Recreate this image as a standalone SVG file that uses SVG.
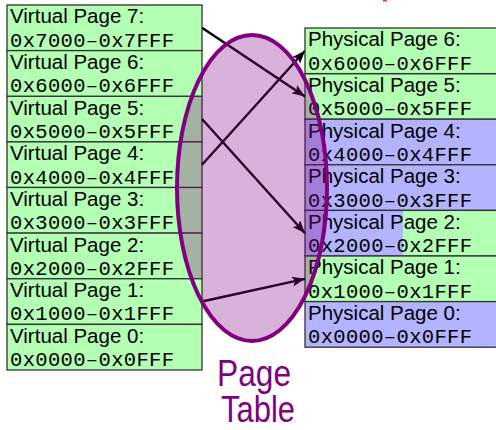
<svg xmlns="http://www.w3.org/2000/svg" width="496" height="430" viewBox="0 0 496 430">
<style>
.g{fill:#b3ffb3;stroke:#333;stroke-width:1.3}
.b{fill:#b3b3ff;stroke:#333;stroke-width:1.3}
.s{font-family:"Liberation Sans",Arial,sans-serif;font-size:20.5px;fill:#000}
.m{font-family:"Liberation Mono","DejaVu Sans Mono",monospace;font-size:20.5px;fill:#000}
.arr{stroke:#000;stroke-width:2.4;fill:none;marker-end:url(#ah)}
.pt{font-family:"Liberation Sans",Arial,sans-serif;font-size:36px;fill:#800080}
</style>
<defs>
<marker id="ah" markerUnits="userSpaceOnUse" markerWidth="14" markerHeight="12" refX="13" refY="5" orient="auto">
<path d="M0,0 L13,5 L0,10 L3,5 z" fill="#000"/>
</marker>
</defs>
<rect x="383" y="0" width="4" height="1.5" fill="#ff3030"/>
<!-- nodes under the table overlay -->
<g id="v5"><rect class="g" x="7" y="96.25" width="195" height="45.6"/><text class="s" x="10" y="114.6">Virtual Page 5:</text><text class="m" x="10" y="138" textLength="164">0x5000–0x5FFF</text></g>
<g id="v4"><rect class="g" x="7" y="141.9" width="195" height="45.6"/><text class="s" x="10" y="160.3">Virtual Page 4:</text><text class="m" x="10" y="183.6" textLength="164">0x4000–0x4FFF</text></g>
<g id="v3"><rect class="g" x="7" y="187.5" width="195" height="45.6"/><text class="s" x="10" y="205.9">Virtual Page 3:</text><text class="m" x="10" y="229.2" textLength="164">0x3000–0x3FFF</text></g>
<g id="v2"><rect class="g" x="7" y="233.1" width="195" height="45.6"/><text class="s" x="10" y="251.5">Virtual Page 2:</text><text class="m" x="10" y="274.8" textLength="164">0x2000–0x2FFF</text></g>
<g id="p5"><rect class="g" x="305" y="73.6" width="200" height="45.6"/><text class="s" x="308" y="92">Physical Page 5:</text><text class="m" x="308" y="115.3" textLength="164">0x5000–0x5FFF</text></g>
<g id="p4"><rect class="b" x="305" y="119.2" width="200" height="45.6"/><text class="s" x="308" y="137.6">Physical Page 4:</text><text class="m" x="308" y="160.9" textLength="164">0x4000–0x4FFF</text></g>
<g id="p3"><rect class="b" x="305" y="164.8" width="200" height="45.6"/><text class="s" x="308" y="183.2">Physical Page 3:</text><text class="m" x="308" y="206.5" textLength="164">0x3000–0x3FFF</text></g>
<g id="p2"><rect x="403" y="210.4" width="102" height="45.6" fill="#b3ffb3"/><rect x="305" y="210.4" width="98" height="45.6" fill="#b3b3ff"/><rect x="305" y="210.4" width="200" height="45.6" fill="none" stroke="#333" stroke-width="1.3"/><text class="s" x="308" y="228.8">Physical Page 2:</text><text class="m" x="308" y="252.1" textLength="164">0x2000–0x2FFF</text></g>
<g id="p1"><rect class="g" x="305" y="256" width="200" height="45.6"/><text class="s" x="308" y="274.4">Physical Page 1:</text><text class="m" x="308" y="297.7" textLength="164">0x1000–0x1FFF</text></g>
<!-- connectors -->
<g id="connectors">
<line class="arr" x1="202" y1="27.8" x2="305" y2="96.4"/>
<line class="arr" x1="202" y1="164.7" x2="305" y2="50.8"/>
<line class="arr" x1="202" y1="119" x2="305" y2="233.2"/>
<line class="arr" x1="202" y1="301.5" x2="305" y2="278.8"/>
</g>
<!-- page table fill -->
<ellipse id="pagetable-fill" cx="252" cy="188" rx="75" ry="153" fill="#800080" fill-opacity="0.3"/>
<!-- nodes above the overlay -->
<g id="v7"><rect class="g" x="7" y="5" width="195" height="45.6"/><text class="s" x="10" y="23.3">Virtual Page 7:</text><text class="m" x="10" y="46.7" textLength="164">0x7000–0x7FFF</text></g>
<g id="v6"><rect class="g" x="7" y="50.6" width="195" height="45.6"/><text class="s" x="10" y="69">Virtual Page 6:</text><text class="m" x="10" y="92.3" textLength="164">0x6000–0x6FFF</text></g>
<g id="v1"><rect class="g" x="7" y="278.75" width="195" height="45.6"/><text class="s" x="10" y="297.1">Virtual Page 1:</text><text class="m" x="10" y="320.4" textLength="164">0x1000–0x1FFF</text></g>
<g id="v0"><rect class="g" x="7" y="324.4" width="195" height="45.6"/><text class="s" x="10" y="342.8">Virtual Page 0:</text><text class="m" x="10" y="366.1" textLength="164">0x0000–0x0FFF</text></g>
<g id="p6"><rect class="g" x="305" y="28" width="200" height="45.6"/><text class="s" x="308" y="46.4">Physical Page 6:</text><text class="m" x="308" y="69.7" textLength="164">0x6000–0x6FFF</text></g>
<g id="p0"><rect class="b" x="305" y="301.6" width="200" height="45.6"/><text class="s" x="308" y="320">Physical Page 0:</text><text class="m" x="308" y="343.3" textLength="164">0x0000–0x0FFF</text></g>
<g id="pagetable">
<ellipse cx="252" cy="188" rx="75" ry="153" fill="none" stroke="#800080" stroke-width="4"/>
<text class="pt" x="254" y="386" text-anchor="middle" textLength="74" lengthAdjust="spacingAndGlyphs">Page</text>
<text class="pt" x="258" y="422" text-anchor="middle" textLength="74" lengthAdjust="spacingAndGlyphs">Table</text>
</g>
</svg>
